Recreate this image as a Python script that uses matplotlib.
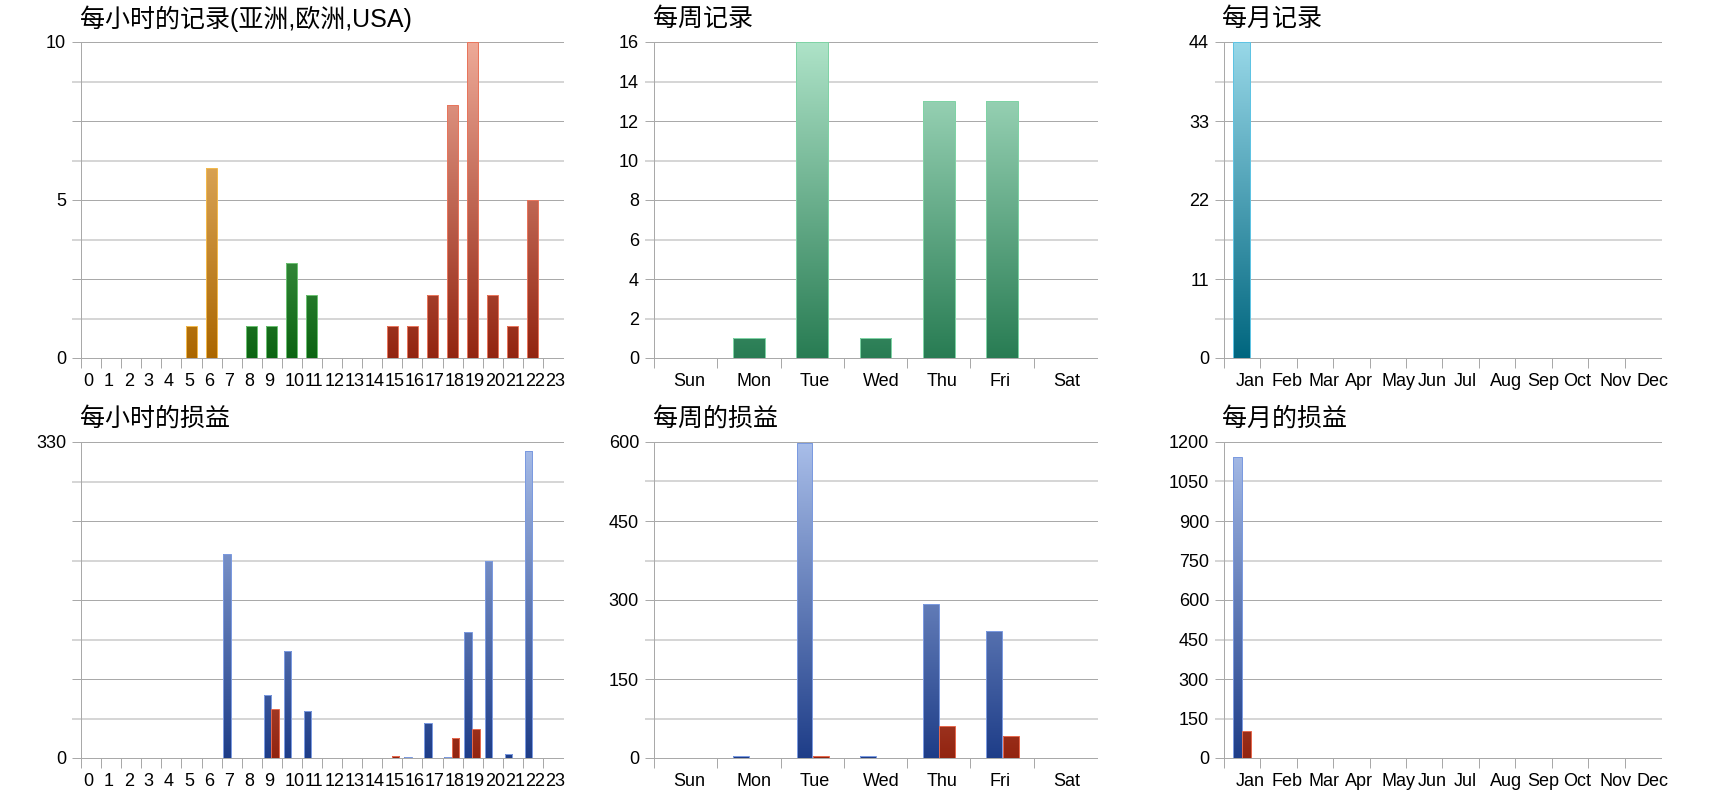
import matplotlib
matplotlib.use('Agg')
import matplotlib.pyplot as plt
import matplotlib.transforms as mtransforms
from matplotlib.colors import LinearSegmentedColormap
import numpy as np

plt.rcParams['font.family'] = ['Liberation Sans', 'Noto Sans CJK SC', 'DejaVu Sans']

# ---------------- data ----------------
hour_labels = [str(h) for h in range(24)]
hour_region = ['Asia'] * 8 + ['Europe'] * 7 + ['USA'] * 9
hourly_records = [0, 0, 0, 0, 0, 1, 6, 0, 1, 1, 3, 2, 0, 0, 0, 1, 1, 2, 8, 10, 2, 1, 5, 0]
hourly_gain = [0, 0, 0, 0, 0, 0, 0, 213, 0, 66, 112, 49, 0, 0, 0, 0, 1, 37, 1, 132, 206, 4.5, 321, 0]
hourly_loss = [0, 0, 0, 0, 0, 0, 0, 0, 0, 51, 0, 0, 0, 0, 0, 2, 0, 0, 21, 30, 0, 0, 0, 0]

day_labels = ['Sun', 'Mon', 'Tue', 'Wed', 'Thu', 'Fri', 'Sat']
weekly_records = [0, 1, 16, 1, 13, 13, 0]
weekly_gain = [0, 4.4, 599, 3.8, 292, 242, 0]
weekly_loss = [0, 0, 3.2, 0, 60, 42, 0]

month_labels = ['Jan', 'Feb', 'Mar', 'Apr', 'May', 'Jun', 'Jul', 'Aug', 'Sep', 'Oct', 'Nov', 'Dec']
monthly_records = [44, 0, 0, 0, 0, 0, 0, 0, 0, 0, 0, 0]
monthly_gain = [1142, 0, 0, 0, 0, 0, 0, 0, 0, 0, 0, 0]
monthly_loss = [104, 0, 0, 0, 0, 0, 0, 0, 0, 0, 0, 0]

titles = ['每小时的记录(亚洲,欧洲,USA)', '每周记录', '每月记录',
          '每小时的损益', '每周的损益', '每月的损益']

# ---------------- styles ----------------
W, H = 1720, 800
PT = 0.72  # points per pixel at 100 dpi
DARK_GRID = '#a9a9a9'
LIGHT_GRID = '#d6d6d6'

region_style = {
    'Asia':   ('#ab6700', '#f6c98a', '#f2b94c'),
    'Europe': ('#0c6412', '#8ad48e', '#6cc072'),
    'USA':    ('#922410', '#eeaa98', '#e8755c'),
}
week_green = ('#287c53', '#aee3c8', '#7fd3a5')
teal = ('#00667f', '#98d8e8', '#5ec3e3')
blue = ('#1e3d88', '#a9bee9', '#7b9ae0')
red = ('#922410', '#eeaa98', '#e5684d')

fig = plt.figure(figsize=(17.2, 8), dpi=100)


def px_axes(x0, y0, x1, y1):
    return fig.add_axes([x0 / W, 1 - y1 / H, (x1 - x0) / W, (y1 - y0) / H])


def grad_bars(ax, x, vals, width, style, ymax):
    c0, c1, edge = style
    cmap = LinearSegmentedColormap.from_list('g', [c0, c1])
    grad = np.linspace(0, 1, 256).reshape(-1, 1)
    bars = ax.bar(x, vals, width, facecolor='none', edgecolor=edge,
                  linewidth=PT, zorder=3)
    for b, v in zip(bars, vals):
        if v <= 0:
            b.set_visible(False)
            continue
        im = ax.imshow(grad, cmap=cmap, origin='lower', aspect='auto',
                       extent=(b.get_x(), b.get_x() + b.get_width(), 0, ymax),
                       zorder=2, interpolation='bilinear')
        im.set_clip_path(b)


def style_axes(ax, n, ymax, label_idx, xlabels, xlabel_dx):
    ax.set_xlim(-0.5, n - 0.5)
    ax.set_ylim(0, ymax)
    yt = np.linspace(0, ymax, 9)
    ax.set_yticks(yt)
    ax.set_yticklabels([('%g' % v) if i in label_idx else '' for i, v in enumerate(yt)])
    ax.tick_params(axis='y', length=9 * PT, pad=6 * PT, labelsize=13)
    ax.yaxis.grid(True)
    ax.set_axisbelow(True)
    for i, t in enumerate(ax.yaxis.get_major_ticks()):
        dark = i % 2 == 0
        c = DARK_GRID if dark else LIGHT_GRID
        lw = (1 if dark else 2) * PT
        t.gridline.set_color(c)
        t.gridline.set_linewidth(lw)
        t.gridline.set_clip_on(False)
        t.tick1line.set_color(c)
        t.tick1line.set_markeredgecolor(c)
        t.tick1line.set_markeredgewidth(lw)
    ax.set_xticks(np.arange(n) - 0.5)
    ax.set_xticklabels(xlabels)
    ax.tick_params(axis='x', length=10 * PT, width=PT, color=DARK_GRID,
                   pad=5 * PT, labelsize=13)
    off = mtransforms.ScaledTranslation(xlabel_dx / 100.0, 0, fig.dpi_scale_trans)
    for lab in ax.get_xticklabels():
        lab.set_ha('left')
        lab.set_transform(lab.get_transform() + off)
    for s in ('top', 'right'):
        ax.spines[s].set_visible(False)
    for s in ('left', 'bottom'):
        ax.spines[s].set_color(DARK_GRID)
        ax.spines[s].set_linewidth(PT)


cols = [(81, 563), (654, 1097), (1224, 1661)]
rows = [(42, 358), (442, 758)]
title_y = [19, 419]
title_x = [80, 653, 1222]

# --- hourly records ---
ax = px_axes(cols[0][0], rows[0][0], cols[0][1], rows[0][1])
for reg in ('Asia', 'Europe', 'USA'):
    xs = [i - 0.01 for i, r in enumerate(hour_region) if r == reg]
    vs = [v for v, r in zip(hourly_records, hour_region) if r == reg]
    grad_bars(ax, xs, vs, 0.54, region_style[reg], 10)
style_axes(ax, 24, 10, (0, 4, 8), hour_labels, 2.5)

# --- weekly records ---
ax = px_axes(cols[1][0], rows[0][0], cols[1][1], rows[0][1])
grad_bars(ax, np.arange(7), weekly_records, 0.5, week_green, 16)
style_axes(ax, 7, 16, range(9), day_labels, 19)

# --- monthly records ---
ax = px_axes(cols[2][0], rows[0][0], cols[2][1], rows[0][1])
grad_bars(ax, np.arange(12) - 0.02, monthly_records, 0.49, teal, 44)
style_axes(ax, 12, 44, (0, 2, 4, 6, 8), month_labels, 11.5)

# --- hourly profit/loss ---
ax = px_axes(cols[0][0], rows[1][0], cols[0][1], rows[1][1])
grad_bars(ax, np.arange(24) - 0.22, hourly_gain, 0.37, blue, 330)
grad_bars(ax, np.arange(24) + 0.16, hourly_loss, 0.37, red, 330)
style_axes(ax, 24, 330, (0, 8), hour_labels, 2.5)

# --- weekly profit/loss ---
ax = px_axes(cols[1][0], rows[1][0], cols[1][1], rows[1][1])
grad_bars(ax, np.arange(7) - 0.123, weekly_gain, 0.25, blue, 600)
grad_bars(ax, np.arange(7) + 0.135, weekly_loss, 0.25, red, 600)
style_axes(ax, 7, 600, (0, 2, 4, 6, 8), day_labels, 19)

# --- monthly profit/loss ---
ax = px_axes(cols[2][0], rows[1][0], cols[2][1], rows[1][1])
grad_bars(ax, np.arange(12) - 0.13, monthly_gain, 0.24, blue, 1200)
grad_bars(ax, np.arange(12) + 0.11, monthly_loss, 0.24, red, 1200)
style_axes(ax, 12, 1200, range(9), month_labels, 11.5)

for k, t in enumerate(titles):
    r, c = divmod(k, 3)
    fig.text(title_x[c] / W, 1 - title_y[r] / H, t, fontsize=18, ha='left', va='center',
             family=['Liberation Sans', 'Noto Sans CJK SC'])

fig.savefig('out.png', dpi=100, facecolor='white')
